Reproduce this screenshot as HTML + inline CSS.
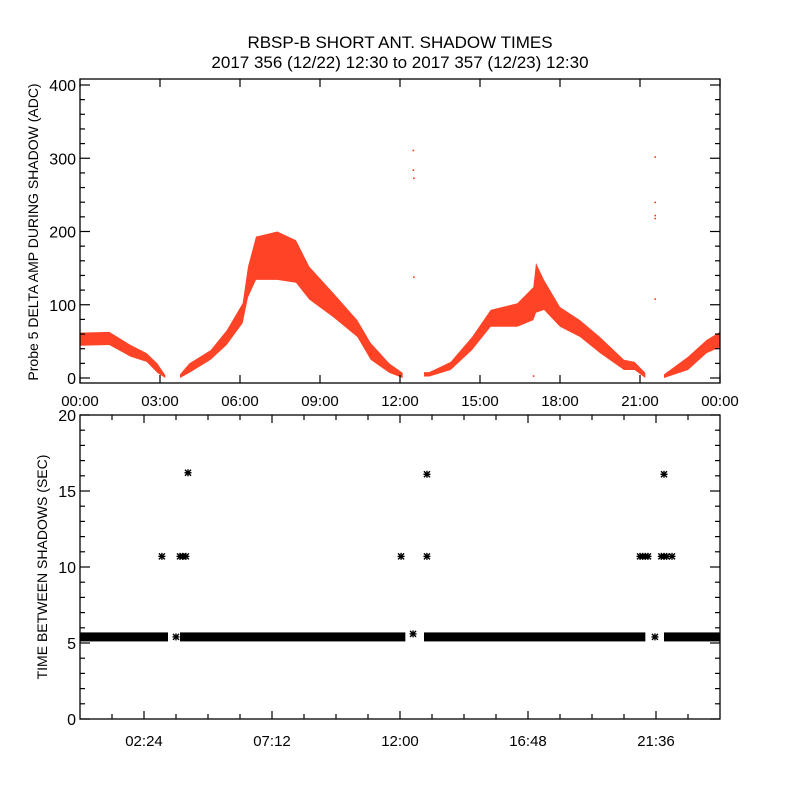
<!DOCTYPE html>
<html><head><meta charset="utf-8"><style>
body{margin:0;background:#fff;}
svg text{font-family:"Liberation Sans",sans-serif;fill:#000;}
</style></head><body>
<svg id="chart" width="800" height="800" viewBox="0 0 800 800" xmlns="http://www.w3.org/2000/svg">
<rect width="800" height="800" fill="#fff"/>
<text x="400" y="48" font-size="17" text-anchor="middle">RBSP-B SHORT ANT. SHADOW TIMES</text>
<text x="400" y="68" font-size="17" text-anchor="middle">2017 356 (12/22) 12:30 to 2017 357 (12/23) 12:30</text>
<g id="topPanel"></g><g id="botPanel"></g>
</svg>
<script>
// Top panel data: envelope of red scatter band (hours, low, high), segments separated by gaps
const ampSeg1Hours=[0,1.1,1.9,2.5,2.9,3.2];
const ampSeg1Low=[44,45,29,22,7,0];
const ampSeg1High=[62,63,45,34,20,4];
const ampSeg2Hours=[3.75,4.1,4.9,5.5,6.1,6.3,6.6,7.4,8.1,8.6,9.5,10.4,10.9,11.6,12.1];
const ampSeg2Low=[0,7,25,45,75,110,134,134,130,107,83,56,25,7,0];
const ampSeg2High=[5,20,38,65,102,152,193,200,188,152,116,79,48,20,7];
const ampSeg3Hours=[12.9,13.1,13.9,14.7,15.4,16.4,17.0,17.1,17.4,18.0,18.75,19.5,20.4,20.8,21.2];
const ampSeg3Low=[2,2,11,38,70,70,79,89,93,70,56,34,11,11,0];
const ampSeg3High=[8,8,22,56,93,102,124,157,134,97,79,56,25,22,7];
const ampSeg4Hours=[21.9,22.8,23.5,24];
const ampSeg4Low=[0,11,34,42];
const ampSeg4High=[5,29,52,63];
const outlierHours=[12.49,12.49,12.51,12.51,21.56,21.56,21.56,21.56,21.56,10.9,17.0];
const outlierValues=[311,284,273,138,302,240,222,218,108,33,3];
const topYTicks=[0,100,200,300,400];
const topXLabels=["00:00","03:00","06:00","09:00","12:00","15:00","18:00","21:00","00:00"];
// Bottom panel data
const bandStarts=[0,3.75,12.9,21.9];
const bandEnds=[3.3,12.2,21.2,24];
const bandValues=[5.4,5.4,5.4,5.4];
const starHours=[3.07,3.75,3.85,3.97,4.05,12.04,12.49,13.01,13.01,21.0,21.1,21.2,21.3,21.56,21.8,21.9,22.0,22.2,21.9,3.6];
const starValues=[10.7,10.7,10.7,10.7,16.2,10.7,5.6,10.7,16.1,10.7,10.7,10.7,10.7,5.4,10.7,10.7,10.7,10.7,16.1,5.4];
const botYTicks=[0,5,10,15,20];
const botXTickHours=[2.4,7.2,12,16.8,21.6];
const botXLabels=["02:24","07:12","12:00","16:48","21:36"];

const NS="http://www.w3.org/2000/svg";
function mk(parent,tag,attrs){const e=document.createElementNS(NS,tag);for(const k in attrs)e.setAttribute(k,attrs[k]);parent.appendChild(e);return e;}
const X0=80,X1=720;
const xs=h=>X0+h*(X1-X0)/24;
const yTop=v=>378-v*0.7325;
const yBot=v=>719-v*15.2;
const RED="#ff2200";

const topG=document.getElementById('topPanel');
function band(hours,low,high,i){
  let pts=hours.map((h,j)=>xs(h)+','+yTop(high[j]));
  for(let j=hours.length-1;j>=0;j--)pts.push(xs(hours[j])+','+yTop(low[j]));
  const p=mk(topG,'polygon',{points:pts.join(' '),fill:RED,'fill-opacity':'0.85'});
  
  
}
band(ampSeg1Hours,ampSeg1Low,ampSeg1High,1);
band(ampSeg2Hours,ampSeg2Low,ampSeg2High,2);
band(ampSeg3Hours,ampSeg3Low,ampSeg3High,3);
band(ampSeg4Hours,ampSeg4Low,ampSeg4High,4);
outlierHours.forEach((h,i)=>{
  const r=mk(topG,'rect',{x:xs(h)-0.5,y:yTop(outlierValues[i])-0.5,width:1.5,height:1.5,fill:RED});
  
  
});
const tf=mk(topG,'rect',{x:80,y:79,width:640,height:304,fill:'none',stroke:'#000','stroke-width':1.3});


for(let v=0;v<=400;v+=20){
  const L=(v%100===0)?10:5,y=yTop(v);
  mk(topG,'line',{x1:80,x2:80+L,y1:y,y2:y,stroke:'#000','stroke-width':1.2});
  mk(topG,'line',{x1:720,x2:720-L,y1:y,y2:y,stroke:'#000','stroke-width':1.2});
}
topYTicks.forEach(v=>{
  const t=mk(topG,'text',{x:76,y:yTop(v)+6,'font-size':16,'text-anchor':'end'});t.textContent=v;
  
  
});
topXLabels.forEach((s,i)=>{
  const x=xs(i*3);
  mk(topG,'line',{x1:x,x2:x,y1:383,y2:375,stroke:'#000','stroke-width':1.2});
  mk(topG,'line',{x1:x,x2:x,y1:79,y2:87,stroke:'#000','stroke-width':1.2});
  const t=mk(topG,'text',{x:x,y:406,'font-size':15,'text-anchor':'middle'});t.textContent=s;
  
  
});
const tt=mk(topG,'text',{x:0,y:0,'font-size':14,'text-anchor':'middle',transform:'translate(38,232) rotate(-90)'});
tt.textContent="Probe 5 DELTA AMP DURING SHADOW (ADC)";



const botG=document.getElementById('botPanel');
bandStarts.forEach((s,i)=>{
  const r=mk(botG,'rect',{x:xs(s),y:yBot(bandValues[i])-4.5,width:xs(bandEnds[i])-xs(s),height:9,fill:'#000'});
  
  
});
starHours.forEach((h,i)=>{
  const cx=xs(h),cy=yBot(starValues[i]);
  const g=mk(botG,'g',{stroke:'#000','stroke-width':1.4});
  
  
  mk(g,'line',{x1:cx-3.5,x2:cx+3.5,y1:cy,y2:cy});
  mk(g,'line',{x1:cx,x2:cx,y1:cy-3.5,y2:cy+3.5});
  mk(g,'line',{x1:cx-3,x2:cx+3,y1:cy-3,y2:cy+3});
  mk(g,'line',{x1:cx-3,x2:cx+3,y1:cy+3,y2:cy-3});
});
const bf=mk(botG,'rect',{x:80,y:415,width:640,height:304,fill:'none',stroke:'#000','stroke-width':1.3});


for(let v=0;v<=20;v++){
  const L=(v%5===0)?10:5,y=yBot(v);
  mk(botG,'line',{x1:80,x2:80+L,y1:y,y2:y,stroke:'#000','stroke-width':1.2});
  mk(botG,'line',{x1:720,x2:720-L,y1:y,y2:y,stroke:'#000','stroke-width':1.2});
}
botYTicks.forEach(v=>{
  const t=mk(botG,'text',{x:76,y:yBot(v)+6,'font-size':16,'text-anchor':'end'});t.textContent=v;
  
  
});
for(let k=1;k<20;k++){
  const h=k*1.2,x=xs(h),L=(k%4===2)?8:5;
  mk(botG,'line',{x1:x,x2:x,y1:719,y2:719-L,stroke:'#000','stroke-width':1.2});
  mk(botG,'line',{x1:x,x2:x,y1:415,y2:415+L,stroke:'#000','stroke-width':1.2});
}
botXTickHours.forEach((h,i)=>{
  const t=mk(botG,'text',{x:xs(h),y:746,'font-size':15,'text-anchor':'middle'});t.textContent=botXLabels[i];
  
  
});
const bt=mk(botG,'text',{x:0,y:0,'font-size':14,'text-anchor':'middle',transform:'translate(47,567) rotate(-90)'});
bt.textContent="TIME BETWEEN SHADOWS (SEC)";


</script>
</body></html>
